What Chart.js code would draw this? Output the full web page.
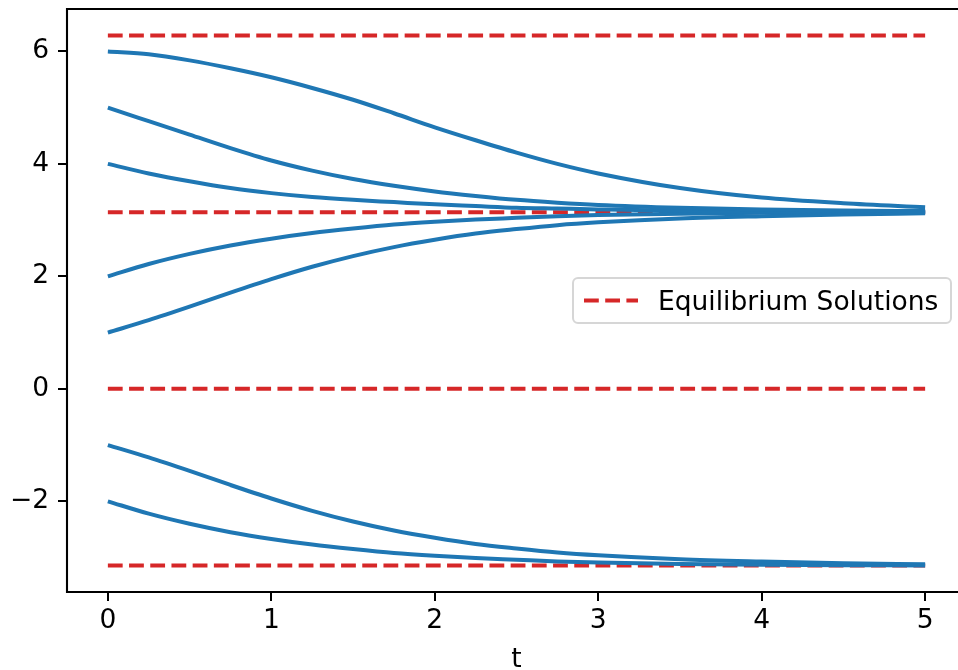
<!DOCTYPE html>
<html>
<head>
<meta charset="utf-8">
<script src="https://cdn.jsdelivr.net/npm/chart.js@4"></script>
<style>
  html, body { margin: 0; padding: 0; background: #fff; overflow: hidden; width: 958px; height: 670px; }
  #wrap { position: absolute; left: 0; top: 0; width: 1000px; height: 670px; }
  #legend {
    position: absolute; left: 572px; top: 277px; width: 380px; height: 47px;
    box-sizing: border-box; border: 2px solid #d6d6d6; border-radius: 6px;
    background: rgba(255,255,255,0.8);
    font-family: "DejaVu Sans", sans-serif; font-size: 26.5px; color: #000;
  }
  #legend svg { position: absolute; left: 8px; top: 0; }
  #legend span { position: absolute; left: 84px; top: 0; line-height: 43px; white-space: nowrap; }
</style>
</head>
<body>
<div id="wrap"><canvas id="c" width="1000" height="670"></canvas></div>
<div id="legend">
  <svg width="60" height="43"><line x1="2" y1="21.5" x2="56" y2="21.5" stroke="#d62728" stroke-width="4" stroke-dasharray="14.8 6.4"/></svg>
  <span>Equilibrium Solutions</span>
</div>
<script>
// ---- data ----
const tValues = [0, 0.25, 0.5, 0.75, 1, 1.25, 1.5, 1.75, 2, 2.25, 2.5, 2.75, 3, 3.5, 4, 4.5, 5];
const y6  = [6.00, 5.95, 5.84, 5.70, 5.54, 5.35, 5.14, 4.90, 4.65, 4.42, 4.20, 4.00, 3.83, 3.57, 3.40, 3.30, 3.23];
const y5  = [5.00, 4.76, 4.52, 4.28, 4.06, 3.88, 3.73, 3.61, 3.51, 3.43, 3.36, 3.31, 3.27, 3.22, 3.19, 3.17, 3.16];
const y4  = [4.00, 3.83, 3.69, 3.57, 3.48, 3.41, 3.36, 3.32, 3.28, 3.25, 3.22, 3.205, 3.19, 3.165, 3.153, 3.147, 3.144];
const y2  = [2.00, 2.22, 2.40, 2.55, 2.67, 2.77, 2.85, 2.92, 2.97, 3.01, 3.04, 3.07, 3.09, 3.115, 3.13, 3.137, 3.14];
const y1  = [1.00, 1.22, 1.46, 1.71, 1.95, 2.17, 2.36, 2.52, 2.65, 2.76, 2.84, 2.91, 2.96, 3.03, 3.07, 3.10, 3.12];
const ym1 = [-1.00, -1.22, -1.46, -1.71, -1.95, -2.17, -2.36, -2.52, -2.65, -2.76, -2.84, -2.91, -2.96, -3.03, -3.07, -3.10, -3.12];
const ym2 = [-2.00, -2.22, -2.40, -2.55, -2.67, -2.77, -2.85, -2.92, -2.97, -3.01, -3.04, -3.07, -3.09, -3.115, -3.13, -3.137, -3.14];
const equilibria = [-3.1416, 0, 3.1416, 6.2832];
const eqRange = [0, 5];
const xTicks = [0, 1, 2, 3, 4, 5];
const yTicks = [-2, 0, 2, 4, 6];
const legendLabel = 'Equilibrium Solutions';

const BLUE = '#1f77b4', RED = '#d62728';
const FONT = { family: 'DejaVu Sans', size: 26.5 };

const datasets = [];
equilibria.forEach((e, i) => {
  datasets.push({
    label: i === 0 ? legendLabel : '',
    data: eqRange.map(t => ({ x: t, y: e })),
    borderColor: RED, borderWidth: 4, borderDash: [14.8, 6.4],
    pointRadius: 0, fill: false, order: 2
  });
});
[y6, y5, y4, y2, y1, ym1, ym2].forEach(s => {
  datasets.push({
    data: tValues.map((t, i) => ({ x: t, y: s[i] })),
    borderColor: BLUE, borderWidth: 4, pointRadius: 0, fill: false,
    cubicInterpolationMode: 'monotone', order: 1
  });
});

// axes spines (the right one lies outside the visible window in the reference)
const frame = {
  id: 'frame',
  afterDraw(chart) {
    const { ctx, chartArea: a } = chart;
    ctx.save();
    ctx.strokeStyle = '#000';
    ctx.lineWidth = 2.1;
    ctx.lineCap = 'square';
    ctx.beginPath();
    ctx.moveTo(chart.width, a.top);
    ctx.lineTo(a.left, a.top);
    ctx.lineTo(a.left, a.bottom);
    ctx.lineTo(chart.width, a.bottom);
    ctx.stroke();
    ctx.restore();
  }
};

function noPad(s) { s.paddingTop = 0; s.paddingBottom = 0; s.paddingLeft = 0; s.paddingRight = 0; }

Chart.defaults.color = '#000';
Chart.defaults.font.family = FONT.family;

new Chart(document.getElementById('c'), {
  type: 'line',
  data: { datasets },
  plugins: [frame],
  options: {
    responsive: false,
    animation: false,
    devicePixelRatio: 1,
    layout: { padding: { top: 9, right: 34, left: 0, bottom: 0 } },
    plugins: { legend: { display: false }, tooltip: { enabled: false } },
    scales: {
      x: {
        type: 'linear', min: -0.25, max: 5.25,
        afterBuildTicks: s => { s.ticks = xTicks.map(v => ({ value: v })); },
        afterFit: s => { s.height = 78; noPad(s); },
        ticks: { font: FONT, color: '#000', padding: 4, maxRotation: 0, autoSkip: false },
        grid: { drawOnChartArea: false, drawTicks: true, tickLength: 9, color: '#000', lineWidth: 2 },
        border: { display: false },
        title: { display: true, text: 't', font: FONT, color: '#000', padding: { top: 0, bottom: -6 } }
      },
      y: {
        type: 'linear', min: -3.613, max: 6.754,
        afterBuildTicks: s => { s.ticks = yTicks.map(v => ({ value: v })); },
        afterFit: s => { s.width = 67; noPad(s); },
        ticks: {
          font: FONT, color: '#000', padding: 9, autoSkip: false,
          callback: v => (v < 0 ? '\u2212' + Math.abs(v) : String(v))
        },
        grid: { drawOnChartArea: false, drawTicks: true, tickLength: 9, color: '#000', lineWidth: 2 },
        border: { display: false }
      }
    }
  }
});
</script>
</body>
</html>
